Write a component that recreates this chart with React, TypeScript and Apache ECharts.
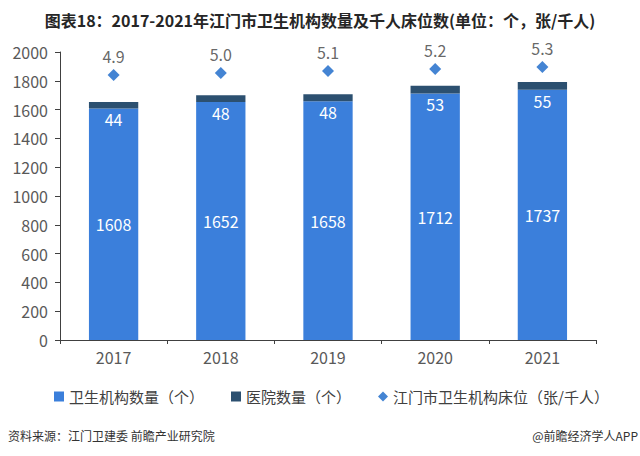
import React, { useEffect, useRef } from "react";
import * as echarts from "echarts";

const years = ["2017", "2018", "2019", "2020", "2021"];
const institutions = [1608, 1652, 1658, 1712, 1737];
const hospitals = [44, 48, 48, 53, 55];
const bedsPerThousand = [4.9, 5.0, 5.1, 5.2, 5.3];

const FONT = "'Noto Sans CJK SC', 'Noto Sans', sans-serif";

export default function App() {
  const ref = useRef<HTMLDivElement>(null);
  useEffect(() => {
    if (!ref.current) return;
    const chart = echarts.init(ref.current, null, { renderer: "svg" });
    chart.setOption({
      animation: false,
      backgroundColor: "#ffffff",
      textStyle: { fontFamily: FONT },
      title: {
        text: "图表18：2017-2021年江门市卫生机构数量及千人床位数(单位：个，张/千人)",
        left: "center",
        top: 7,
        textStyle: { fontSize: 16, fontWeight: "bold", color: "#262626", fontFamily: FONT },
      },
      legend: {
        bottom: 47,
        left: 49,
        itemWidth: 10,
        itemHeight: 10,
        itemGap: 27,
        textStyle: { fontSize: 15, color: "#404040", fontFamily: FONT },
        data: [
          { name: "卫生机构数量（个）", icon: "rect" },
          { name: "医院数量（个）", icon: "rect" },
          { name: "江门市卫生机构床位（张/千人）", icon: "diamond" },
        ],
      },
      grid: { left: 60, right: 44, top: 52, bottom: 116 },
      xAxis: {
        type: "category",
        data: years,
        axisLine: { show: true, lineStyle: { color: "#404040", width: 1 } },
        axisTick: { show: true, length: 4, lineStyle: { color: "#404040" } },
        axisLabel: { fontSize: 16, color: "#595959", margin: 9 },
      },
      yAxis: [
        {
          type: "value",
          min: 0,
          max: 2000,
          interval: 200,
          axisLine: { show: true, lineStyle: { color: "#404040", width: 1 } },
          axisTick: { show: true, length: 5, lineStyle: { color: "#404040" } },
          splitLine: { show: false },
          axisLabel: { fontSize: 16, color: "#595959", margin: 12, formatter: (v: number) => String(v) },
        },
        {
          type: "value",
          min: -8.35,
          max: 6.05,
          show: false,
          splitLine: { show: false },
        },
      ],
      series: [
        {
          name: "卫生机构数量（个）",
          type: "bar",
          stack: "total",
          data: institutions,
          barWidth: "46%",
          itemStyle: { color: "#3b7fdb" },
          label: { show: true, position: "inside", color: "#ffffff", fontSize: 16 },
        },
        {
          name: "医院数量（个）",
          type: "bar",
          stack: "total",
          data: hospitals,
          barWidth: "46%",
          itemStyle: { color: "#2c5070" },
          label: { show: true, position: "bottom", distance: 3, color: "#ffffff", fontSize: 16 },
        },
        {
          name: "江门市卫生机构床位（张/千人）",
          type: "scatter",
          yAxisIndex: 1,
          data: bedsPerThousand,
          symbol: "diamond",
          symbolSize: 12,
          itemStyle: { color: "#1565c8" },
          label: {
            show: true,
            position: "top",
            distance: 5,
            color: "#404040",
            fontSize: 16,
            formatter: (p: any) => Number(p.value).toFixed(1),
          },
        },
      ],
      graphic: [
        {
          type: "text",
          left: 8,
          top: 429,
          style: { text: "资料来源：江门卫建委 前瞻产业研究院", fontSize: 12, fill: "#333333", fontFamily: FONT },
        },
        {
          type: "text",
          right: 2,
          top: 429,
          style: { text: "@前瞻经济学人APP", fontSize: 12, fill: "#333333", fontFamily: FONT },
        },
      ],
    });
    return () => chart.dispose();
  }, []);
  return <div ref={ref} style={{ width: 640, height: 456, position: "absolute", left: 0, top: 0 }} />;
}
